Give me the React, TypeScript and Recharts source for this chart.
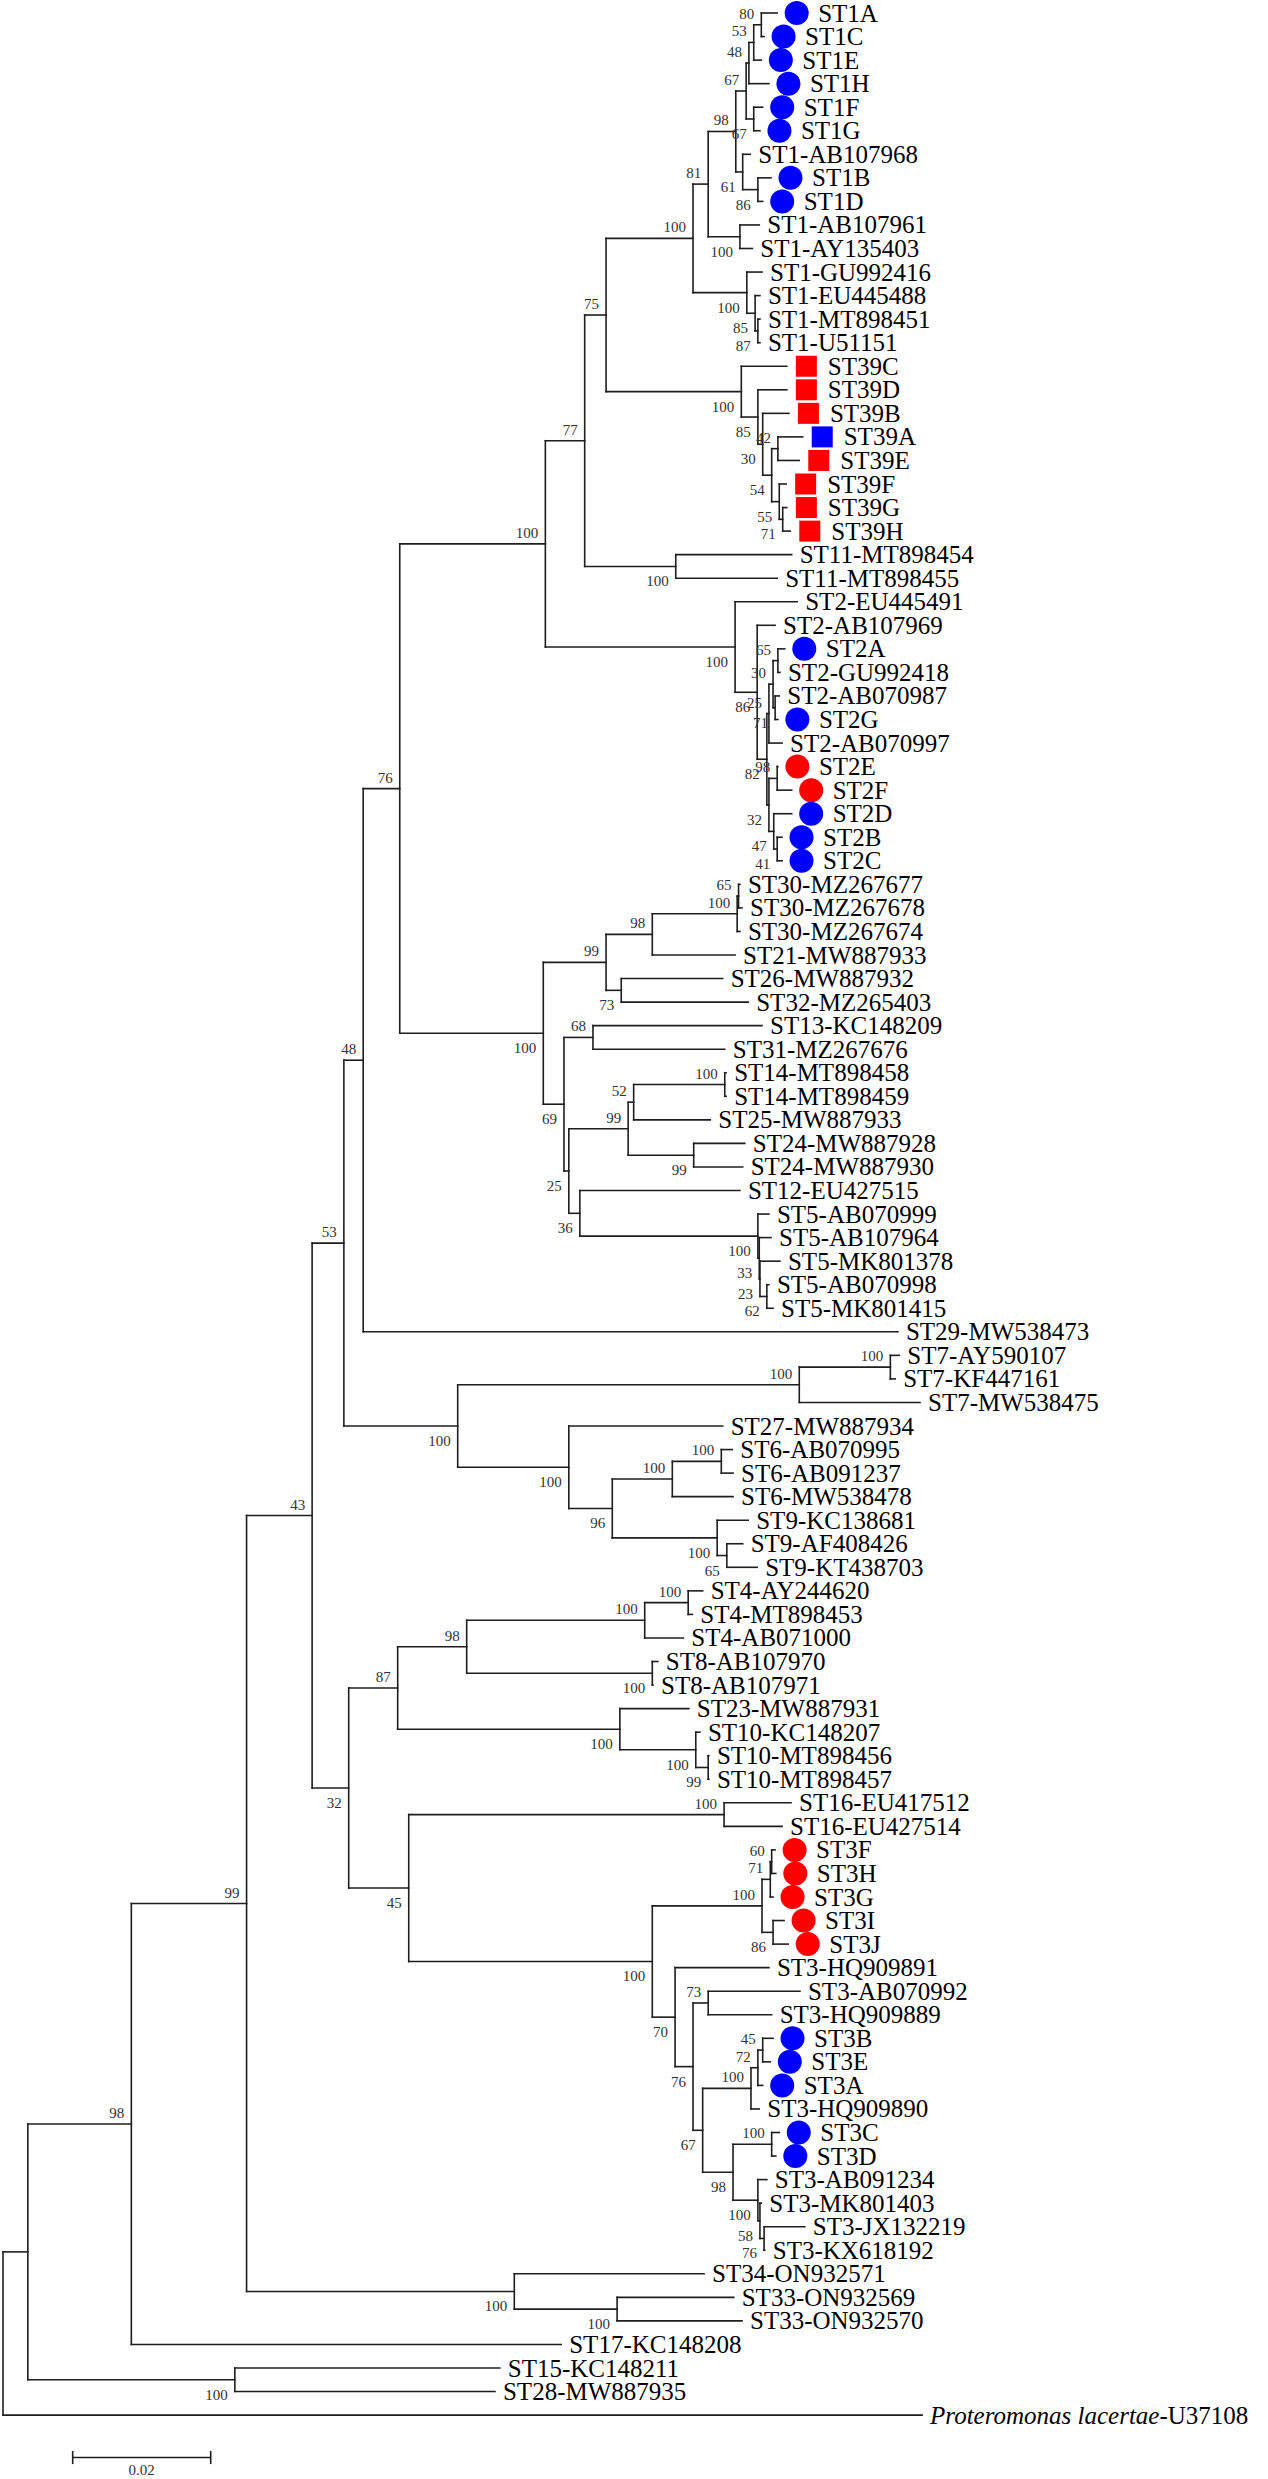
import React from "react";
import { ComposedChart, XAxis, YAxis, Scatter, ReferenceLine } from "recharts";

// Leaves, top to bottom
const LEAF_NAMES = [
  "ST1A","ST1C","ST1E","ST1H","ST1F","ST1G","ST1-AB107968","ST1B","ST1D","ST1-AB107961","ST1-AY135403","ST1-GU992416","ST1-EU445488","ST1-MT898451","ST1-U51151",
  "ST39C","ST39D","ST39B","ST39A","ST39E","ST39F","ST39G","ST39H",
  "ST11-MT898454","ST11-MT898455",
  "ST2-EU445491","ST2-AB107969","ST2A","ST2-GU992418","ST2-AB070987","ST2G","ST2-AB070997","ST2E","ST2F","ST2D","ST2B","ST2C",
  "ST30-MZ267677","ST30-MZ267678","ST30-MZ267674","ST21-MW887933","ST26-MW887932","ST32-MZ265403","ST13-KC148209","ST31-MZ267676","ST14-MT898458","ST14-MT898459","ST25-MW887933","ST24-MW887928","ST24-MW887930","ST12-EU427515",
  "ST5-AB070999","ST5-AB107964","ST5-MK801378","ST5-AB070998","ST5-MK801415",
  "ST29-MW538473","ST7-AY590107","ST7-KF447161","ST7-MW538475","ST27-MW887934","ST6-AB070995","ST6-AB091237","ST6-MW538478","ST9-KC138681","ST9-AF408426","ST9-KT438703",
  "ST4-AY244620","ST4-MT898453","ST4-AB071000","ST8-AB107970","ST8-AB107971","ST23-MW887931","ST10-KC148207","ST10-MT898456","ST10-MT898457","ST16-EU417512","ST16-EU427514",
  "ST3F","ST3H","ST3G","ST3I","ST3J","ST3-HQ909891","ST3-AB070992","ST3-HQ909889","ST3B","ST3E","ST3A","ST3-HQ909890","ST3C","ST3D","ST3-AB091234","ST3-MK801403","ST3-JX132219","ST3-KX618192",
  "ST34-ON932571","ST33-ON932569","ST33-ON932570","ST17-KC148208","ST15-KC148211","ST28-MW887935","Proteromonas lacertae-U37108",
];

// Distance of each leaf tip from the root (x 10^-3 substitutions/site)
const LEAF_TIPS = [
  112.2,110.3,109.9,111.0,110.1,109.7,108.3,111.3,110.1,109.6,108.6,110.0,109.7,109.7,109.7,
  113.6,113.6,113.9,115.9,115.4,113.5,113.6,114.1,
  114.3,112.2,
  115.1,111.9,113.3,112.6,112.5,112.3,112.9,112.3,114.3,114.3,112.9,112.9,
  106.8,107.1,106.8,106.1,104.3,108.0,110.0,104.6,104.8,104.8,102.5,107.5,107.2,106.8,
  111.0,111.3,112.6,111.0,111.6,
  129.7,129.9,129.3,132.9,104.3,105.7,105.8,105.8,108.0,107.2,109.3,
  101.4,99.9,98.6,94.9,94.2,99.4,101.0,102.3,102.3,114.2,112.9,
  111.9,112.0,111.6,113.2,113.8,111.0,115.5,111.4,111.6,111.2,110.1,109.6,112.5,112.0,110.7,109.9,116.2,110.4,
  101.6,105.9,107.1,80.9,72.0,71.3,133.2,
];

const BLUE_CIRCLE = ["ST1A","ST1C","ST1E","ST1H","ST1F","ST1G","ST1B","ST1D","ST2A","ST2G","ST2D","ST2B","ST2C","ST3B","ST3E","ST3A","ST3C","ST3D"];
const RED_CIRCLE = ["ST2E","ST2F","ST3F","ST3H","ST3G","ST3I","ST3J"];
const RED_SQUARE = ["ST39C","ST39D","ST39B","ST39E","ST39F","ST39G","ST39H"];
const BLUE_SQUARE = ["ST39A"];

// Internal nodes: [id, distance from root (x 10^-3), bootstrap, children (leaf index or node id)]
type Ref = string | number;
const NODES: [string, number, number | null, Ref[]][] = [
  ["root", 0, null, ["N27", 102]],
  ["N27", 3.6, null, ["N131", "N15"]],
  ["N131", 18.6, 98, ["N246", 99]],
  ["N246", 35.3, 99, ["N312", "N34"]],
  ["N312", 44.8, 43, ["N344", "N349"]],
  ["N344", 49.4, 53, ["N363", "N458"]],
  ["N363", 52.2, 48, ["N400", 56]],
  ["N400", 57.5, 76, ["N545", "Nbot"]],
  ["N545", 78.6, 100, ["N585", "NST2"]],
  ["N585", 84.3, 77, ["N606", "N11"]],
  ["N606", 87.4, 75, ["N693", "N39"]],
  ["N693", 100.0, 100, ["N708", "Ngu"]],
  ["N708", 102.2, 81, ["N736", "Nabay"]],
  ["N736", 106.2, 98, ["N67a", "N61"]],
  ["N67a", 107.7, 67, ["N48", "NFG"]],
  ["N48", 108.1, 48, ["N53", 3]],
  ["N53", 108.8, 53, ["N80", 2]],
  ["N80", 109.9, 80, [0, 1]],
  ["NFG", 108.8, 67, [4, 5]],
  ["N61", 107.2, 61, [6, "NBD"]],
  ["NBD", 109.4, 86, [7, 8]],
  ["Nabay", 106.8, 100, [9, 10]],
  ["Ngu", 107.8, 100, [11, "Neu"]],
  ["Neu", 109.0, 85, [12, "Nmt"]],
  ["Nmt", 109.4, 87, [13, 14]],
  ["N39", 107.0, 100, [15, "N85"]],
  ["N85", 109.4, 85, [16, "N30"]],
  ["N30", 110.1, 30, [17, "N54"]],
  ["N54", 111.4, 54, ["N42", "NFGH"]],
  ["N42", 112.3, 42, [18, 19]],
  ["NFGH", 112.5, 55, [20, "NGH"]],
  ["NGH", 113.0, 71, [21, 22]],
  ["N11", 97.5, 100, [23, 24]],
  ["NST2", 106.1, 100, [25, "N86"]],
  ["N86", 109.3, 86, [26, "Nx"]],
  ["Nx", 110.7, 82, ["Nup", "Nlow"]],
  ["Nup", 111.0, 25, ["Na", 31]],
  ["Na", 111.6, 30, ["NAGU", "N87G"]],
  ["NAGU", 112.3, 65, [27, 28]],
  ["N87G", 111.9, 71, [29, 30]],
  ["Nlow", 111.0, 32, ["NEF", "NDBC"]],
  ["NEF", 112.2, 98, [32, 33]],
  ["NDBC", 111.7, 47, [34, "NBC"]],
  ["NBC", 112.2, 41, [35, 36]],
  ["Nbot", 78.3, 100, ["N99", "N69"]],
  ["N99", 87.4, 99, ["N98", "N73"]],
  ["N98", 94.1, 98, ["N30s", 40]],
  ["N30s", 106.4, 100, ["N65s", 39]],
  ["N65s", 106.6, 65, [37, 38]],
  ["N73", 89.6, 73, [41, 42]],
  ["N69", 81.3, 69, ["N68", "N25"]],
  ["N68", 85.5, 68, [43, 44]],
  ["N25", 82.0, 25, ["N99b", "N36"]],
  ["N99b", 90.6, 99, ["N52", "N99c"]],
  ["N52", 91.4, 52, ["N14", 47]],
  ["N14", 104.6, 100, [45, 46]],
  ["N99c", 100.1, 99, [48, 49]],
  ["N36", 83.6, 36, [50, "N5"]],
  ["N5", 109.4, 100, [51, "N5b"]],
  ["N5b", 109.6, 33, [52, "N5c"]],
  ["N5c", 109.7, 23, [53, "N5d"]],
  ["N5d", 110.7, 62, [54, 55]],
  ["N458", 65.9, 100, ["NST7", "N27c"]],
  ["NST7", 115.4, 100, ["N7ab", 59]],
  ["N7ab", 128.6, 100, [57, 58]],
  ["N27c", 82.0, 100, [60, "N96"]],
  ["N96", 88.3, 96, ["N6", "N9"]],
  ["N6", 97.0, 100, ["N6ab", 63]],
  ["N6ab", 104.1, 100, [61, 62]],
  ["N9", 103.5, 100, [64, "N9b"]],
  ["N9b", 104.9, 65, [65, 66]],
  ["N349", 50.1, 32, ["N398", "N409"]],
  ["N398", 57.2, 87, ["N467", "N620"]],
  ["N467", 67.2, 98, ["NST4", "N8"]],
  ["NST4", 93.0, 100, ["N4ab", 69]],
  ["N4ab", 99.3, 100, [67, 68]],
  ["N8", 94.1, 100, [70, 71]],
  ["N620", 89.4, 100, [72, "N10"]],
  ["N10", 100.4, 100, [73, "N10b"]],
  ["N10b", 102.2, 99, [74, 75]],
  ["N409", 58.8, 45, ["N16", "NST3"]],
  ["N16", 104.5, 100, [76, 77]],
  ["NST3", 94.1, 100, ["N3r", "N70"]],
  ["N3r", 110.0, 100, ["N71r", "NIJ"]],
  ["N71r", 111.2, 71, ["NFH", 80]],
  ["NFH", 111.4, 60, [78, 79]],
  ["NIJ", 111.6, 86, [81, 82]],
  ["N70", 97.4, 70, [83, "N76"]],
  ["N76", 100.0, 76, ["N73c", "N67"]],
  ["N73c", 102.2, 73, [84, 85]],
  ["N67", 101.4, 67, ["N3b", "N98c"]],
  ["N3b", 108.4, 100, ["N72", 89]],
  ["N72", 109.4, 72, ["NBE", 88]],
  ["NBE", 110.1, 45, [86, 87]],
  ["N98c", 105.8, 98, ["NCD", "N3c"]],
  ["NCD", 111.4, 100, [90, 91]],
  ["N3c", 109.4, 100, [92, "N58"]],
  ["N58", 109.7, 58, [93, "N76b"]],
  ["N76b", 110.3, 76, [94, 95]],
  ["N34", 74.1, 100, [96, "N33"]],
  ["N33", 89.0, 100, [97, 98]],
  ["N15", 33.6, 100, [100, 101]],
];

const SCALE_BAR_START = 10.1;
const SCALE_BAR_LENGTH = 20; // 0.02
const SCALE_BAR_LABEL = "0.02";
const SCALE_BAR_ROW = 103.8;

const X_DOMAIN: [number, number] = [-0.435, 183.33];
const Y_DOMAIN: [number, number] = [-0.552, 104.713];

const FONT = "Liberation Serif, Times New Roman, serif";

const nodeMap = new Map<string, [string, number, number | null, Ref[]]>();
NODES.forEach((n) => nodeMap.set(n[0], n));
const parentOf = new Map<string, string>();
NODES.forEach((n) => n[3].forEach((k) => { if (typeof k === "string") parentOf.set(k, n[0]); }));

const yCache = new Map<string, number>();
function refY(r: Ref): number {
  if (typeof r === "number") return r;
  if (yCache.has(r)) return yCache.get(r)!;
  const kids = nodeMap.get(r)![3];
  const v = (refY(kids[0]) + refY(kids[kids.length - 1])) / 2;
  yCache.set(r, v);
  return v;
}
function refX(r: Ref): number {
  return typeof r === "number" ? LEAF_TIPS[r] : nodeMap.get(r)![1];
}

type Seg = { x: number; y: number }[];
const segments: Seg[] = [];
NODES.forEach(([, nx, , kids]) => {
  segments.push([{ x: nx, y: refY(kids[0]) }, { x: nx, y: refY(kids[kids.length - 1]) }]);
  kids.forEach((k) => segments.push([{ x: nx, y: refY(k) }, { x: refX(k), y: refY(k) }]));
});

function markOf(name: string): string {
  if (BLUE_CIRCLE.includes(name)) return "bc";
  if (RED_CIRCLE.includes(name)) return "rc";
  if (RED_SQUARE.includes(name)) return "rs";
  if (BLUE_SQUARE.includes(name)) return "bs";
  return "";
}

const leafData = LEAF_NAMES.map((name, i) => ({ x: LEAF_TIPS[i], y: i, name, mark: markOf(name) }));

const bsData = NODES.filter((n) => n[2] !== null).map(([id, nx, bs]) => {
  const p = parentOf.get(id);
  const above = p ? nodeMap.get(p)![3][0] === id : true;
  return { x: nx, y: refY(id), bs, above };
});

const scaleData = [{ x: SCALE_BAR_START + SCALE_BAR_LENGTH / 2, y: SCALE_BAR_ROW, label: SCALE_BAR_LABEL }];

const textStyle = { fontFamily: FONT };

const LeafShape = (props: any) => {
  const { cx, cy, payload } = props;
  const m = payload.mark;
  const els: React.ReactNode[] = [];
  let lx = cx + 8;
  if (m) {
    const fill = m[0] === "b" ? "#0000ff" : "#ff0000";
    const mx = cx + 19.5;
    if (m[1] === "c") els.push(<circle key="m" cx={mx} cy={cy} r={12} fill={fill} />);
    else els.push(<rect key="m" x={mx - 10.5} y={cy - 10.5} width={21} height={21} fill={fill} />);
    lx = cx + 41;
  }
  const name: string = payload.name;
  if (name.startsWith("Proteromonas")) {
    els.push(
      <text key="t" x={lx} y={cy + 8.5} style={textStyle} fontSize={25} fill="#000">
        <tspan fontStyle="italic">Proteromonas lacertae</tspan>
        <tspan>-U37108</tspan>
      </text>
    );
  } else {
    els.push(
      <text key="t" x={lx} y={cy + 8.5} style={textStyle} fontSize={25} fill="#000">
        {name}
      </text>
    );
  }
  return <g>{els}</g>;
};

const BsShape = (props: any) => {
  const { cx, cy, payload } = props;
  return (
    <text x={cx - 7} y={payload.above ? cy - 6 : cy + 20} textAnchor="end" style={textStyle} fontSize={15} fill="#333">
      {payload.bs}
    </text>
  );
};

const ScaleShape = (props: any) => {
  const { cx, cy, payload } = props;
  return (
    <text x={cx} y={cy + 18} textAnchor="middle" style={textStyle} fontSize={15} fill="#333">
      {payload.label}
    </text>
  );
};

export default function App() {
  const tick = 0.28;
  return (
    <div style={{ width: 1268, height: 2479, background: "#fff" }}>
      <style>{"body{margin:0;background:#fff}"}</style>
      <ComposedChart width={1268} height={2479} margin={{ top: 0, right: 0, bottom: 0, left: 0 }}>
        <XAxis type="number" dataKey="x" domain={X_DOMAIN} hide allowDataOverflow />
        <YAxis type="number" dataKey="y" domain={Y_DOMAIN} reversed hide allowDataOverflow width={0} />
        {segments.map((s, i) => (
          <ReferenceLine key={i} segment={s} stroke="#1e1e1e" strokeWidth={1.6} strokeLinecap="square" />
        ))}
        <ReferenceLine
          segment={[{ x: SCALE_BAR_START, y: SCALE_BAR_ROW }, { x: SCALE_BAR_START + SCALE_BAR_LENGTH, y: SCALE_BAR_ROW }]}
          stroke="#1e1e1e"
          strokeWidth={1.6}
        />
        <ReferenceLine
          segment={[{ x: SCALE_BAR_START, y: SCALE_BAR_ROW - tick }, { x: SCALE_BAR_START, y: SCALE_BAR_ROW + tick }]}
          stroke="#1e1e1e"
          strokeWidth={1.6}
        />
        <ReferenceLine
          segment={[
            { x: SCALE_BAR_START + SCALE_BAR_LENGTH, y: SCALE_BAR_ROW - tick },
            { x: SCALE_BAR_START + SCALE_BAR_LENGTH, y: SCALE_BAR_ROW + tick },
          ]}
          stroke="#1e1e1e"
          strokeWidth={1.6}
        />
        <Scatter data={leafData} shape={LeafShape} isAnimationActive={false} />
        <Scatter data={bsData} shape={BsShape} isAnimationActive={false} />
        <Scatter data={scaleData} shape={ScaleShape} isAnimationActive={false} />
      </ComposedChart>
    </div>
  );
}
